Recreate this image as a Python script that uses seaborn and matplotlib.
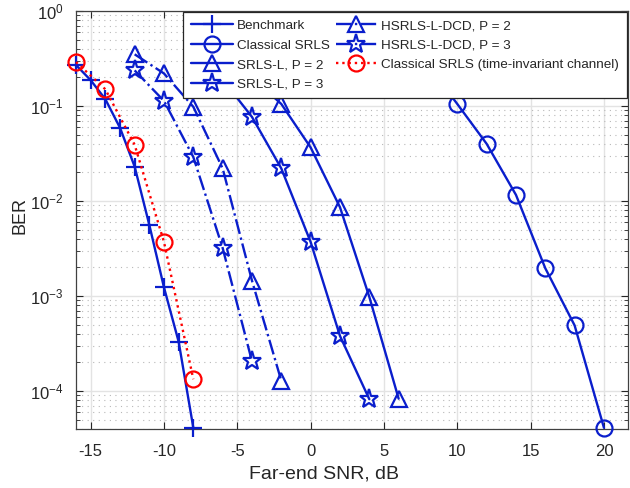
import numpy as np
import pandas as pd
import matplotlib
matplotlib.use("Agg")
import matplotlib.pyplot as plt
from matplotlib.ticker import LogLocator, NullFormatter, FixedLocator
import seaborn as sns

# BER curves versus far-end SNR (dB)
snr_bench = [-16, -15, -14, -13, -12, -11, -10, -9, -8]
ber_bench = [0.27, 0.187, 0.118, 0.059, 0.023, 0.0056, 0.00123, 3.3e-4, 4.1e-5]

snr_classic = [8, 10, 12, 14, 16, 18, 20]
ber_classic = [0.27, 0.105, 0.040, 0.0116, 0.00196, 4.9e-4, 4.1e-5]

snr_srls_p2 = [-4, -2, 0, 2, 4, 6]
ber_srls_p2 = [0.2, 0.105, 0.0366, 0.0086, 9.8e-4, 8.3e-5]

snr_srls_p3 = [-6, -4, -2, 0, 2, 4]
ber_srls_p3 = [0.19, 0.0767, 0.022, 0.0037, 3.8e-4, 8.2e-5]

snr_hsrls_p2 = [-12, -10, -8, -6, -4, -2]
ber_hsrls_p2 = [0.35, 0.22, 0.098, 0.022, 0.00145, 1.28e-4]

snr_hsrls_p3 = [-12, -10, -8, -6, -4]
ber_hsrls_p3 = [0.237, 0.113, 0.029, 0.0032, 2.05e-4]

snr_ti = [-16, -14, -12, -10, -8]
ber_ti = [0.29, 0.15, 0.039, 0.0037, 1.33e-4]

labels = ["Benchmark", "Classical SRLS", "SRLS-L, P = 2", "SRLS-L, P = 3",
          "HSRLS-L-DCD, P = 2", "HSRLS-L-DCD, P = 3",
          "Classical SRLS (time-invariant channel)"]

x_ticks = [-15, -10, -5, 0, 5, 10, 15, 20]
x_tick_labels = ["-15", "-10", "-5", "0", "5", "10", "15", "20"]
y_ticks = [1e-4, 1e-3, 1e-2, 1e-1, 1e0]
y_tick_labels = [r"$10^{-4}$", r"$10^{-3}$", r"$10^{-2}$", r"$10^{-1}$", r"$10^{0}$"]

sns.set_theme(style="ticks")
plt.rcParams["font.family"] = ["Liberation Sans", "DejaVu Sans"]
plt.rcParams["mathtext.fontset"] = "custom"
plt.rcParams["mathtext.rm"] = "Liberation Sans"
plt.rcParams["mathtext.it"] = "Liberation Sans:italic"

BLUE = "#0a1ecc"
RED = "#ff0000"
TXT = "#262626"

fig = plt.figure(figsize=(6.3, 4.88), dpi=100)
ax = fig.add_axes([76 / 630, 1 - 429 / 488, (628 - 76) / 630, (429 - 11) / 488])

series = [
    (snr_bench, ber_bench, labels[0], BLUE, "-", "+", 12.5, None),
    (snr_classic, ber_classic, labels[1], BLUE, "-", "o", 11.5, "none"),
    (snr_srls_p2, ber_srls_p2, labels[2], BLUE, "-", "^", 12, "none"),
    (snr_srls_p3, ber_srls_p3, labels[3], BLUE, "-", "*", 14, "none"),
    (snr_hsrls_p2, ber_hsrls_p2, labels[4], BLUE, "-.", "^", 12, "none"),
    (snr_hsrls_p3, ber_hsrls_p3, labels[5], BLUE, "-.", "*", 14, "none"),
    (snr_ti, ber_ti, labels[6], RED, ":", "o", 11.5, "none"),
]

for x, y, lab, col, ls, mk, ms, mfc in series:
    df = pd.DataFrame({"snr": x, "ber": y})
    kw = dict(marker=mk, markersize=ms, markeredgewidth=1.6, markeredgecolor=col)
    if mfc is not None:
        kw["markerfacecolor"] = mfc
    sns.lineplot(data=df, x="snr", y="ber", ax=ax, color=col, linestyle=ls,
                 linewidth=1.7, label=lab, sort=False, zorder=3, clip_on=False,
                 **kw)

ax.set_yscale("log")
ax.set_xlim(-16, 21.64)
ax.set_ylim(10 ** -4.4, 1)

ax.xaxis.set_major_locator(FixedLocator(x_ticks))
ax.set_xticklabels(x_tick_labels)
ax.yaxis.set_major_locator(FixedLocator(y_ticks))
ax.set_yticklabels(y_tick_labels)
ax.yaxis.set_minor_locator(LogLocator(base=10, subs=np.arange(2, 10), numticks=20))
ax.yaxis.set_minor_formatter(NullFormatter())

ax.grid(True, which="major", color="#e3e3e3", linewidth=1.0, linestyle="-")
ax.grid(True, which="minor", axis="y", color="#b8b8b8", linewidth=0.8,
        linestyle=(0, (1, 4)))
ax.set_axisbelow(True)

ax.tick_params(axis="both", which="both", direction="in", top=True, right=True,
               colors="#262626", labelsize=12, labelcolor=TXT)
ax.tick_params(which="major", length=5, width=0.8)
ax.tick_params(which="minor", length=3, width=0.6)
ax.tick_params(axis="x", which="major", pad=11)
ax.tick_params(axis="y", which="major", pad=9)
for s in ax.spines.values():
    s.set_color("#404040")
    s.set_linewidth(0.9)

ax.set_xlabel("Far-end SNR, dB", fontsize=14, color=TXT)
ax.xaxis.set_label_coords(0.449, -0.088)
ax.set_ylabel("BER", fontsize=13, color=TXT)
ax.yaxis.set_label_coords(-0.086, 0.51)

leg = ax.legend(loc="upper right", ncol=2, fontsize=9.7, frameon=True,
                fancybox=False, borderaxespad=0.1, handlelength=3.1,
                handletextpad=0.3, columnspacing=0.45, labelspacing=0.52,
                borderpad=0.55)
leg.get_frame().set_edgecolor("#262626")
leg.get_frame().set_linewidth(0.9)
leg.get_frame().set_alpha(1.0)
leg.set_zorder(5)
for t in leg.get_texts():
    t.set_color(TXT)

fig.savefig("out.png", dpi=100)
